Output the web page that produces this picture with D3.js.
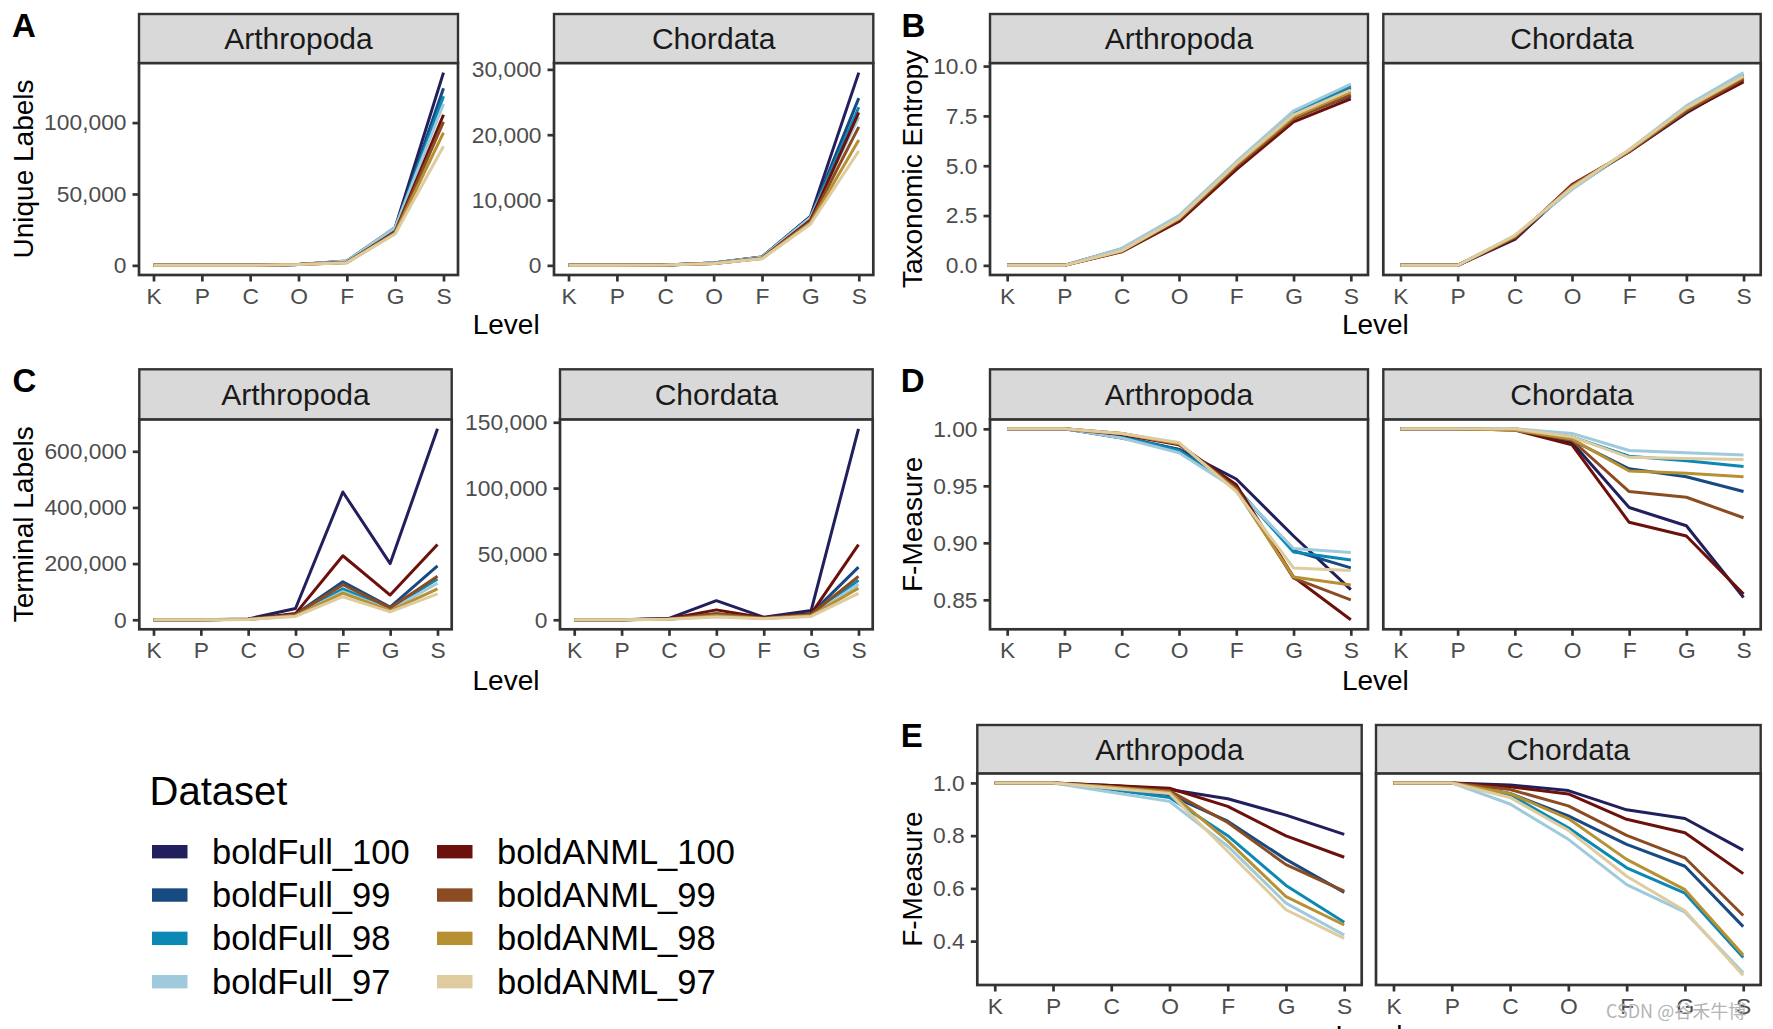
<!DOCTYPE html>
<html>
<head>
<meta charset="utf-8">
<script src="https://cdn.jsdelivr.net/npm/d3@7"></script>
<style>
  body { margin: 0; background: #fff; }
  svg { display: block; }
  text { font-family: "Liberation Sans", Arial, Helvetica, sans-serif; }
</style>
</head>
<body>
<svg id="chart" width="1773" height="1029"></svg>
<script>
// ---------------- DATA ----------------
const levels = ["K", "P", "C", "O", "F", "G", "S"];
const datasets = ["boldFull_100", "boldFull_99", "boldFull_98", "boldFull_97",
                  "boldANML_100", "boldANML_99", "boldANML_98", "boldANML_97"];
const colors = ["#211F5C", "#184A82", "#0B88B4", "#9FCADB",
                "#6B100B", "#8C4C22", "#B89034", "#DECCA0"];

// A: Unique Labels
const uniqueArth = [
  [1, 30, 100, 600, 3000, 26500, 135000],
  [1, 30, 100, 600, 2900, 26000, 124000],
  [1, 30, 100, 600, 2900, 25800, 118500],
  [1, 30, 100, 600, 3000, 26500, 113000],
  [1, 28, 95, 550, 2100, 23500, 105500],
  [1, 28, 95, 550, 2000, 23000, 100500],
  [1, 28, 95, 550, 1900, 22500, 93000],
  [1, 28, 95, 550, 1800, 22000, 83500]
];
const uniqueChord = [
  [1, 3, 60, 350, 1300, 7500, 29500],
  [1, 3, 60, 350, 1300, 7400, 25600],
  [1, 3, 60, 350, 1250, 7300, 24200],
  [1, 3, 60, 350, 1250, 7300, 22700],
  [1, 3, 55, 300, 1100, 6900, 23400],
  [1, 3, 55, 300, 1100, 6700, 21200],
  [1, 3, 55, 300, 1050, 6500, 19200],
  [1, 3, 55, 300, 1000, 6300, 17500]
];
// B: Taxonomic Entropy
const entropyArth = [
  [0, 0, 0.80, 2.40, 5.00, 7.40, 8.50],
  [0, 0, 0.82, 2.45, 5.10, 7.60, 8.90],
  [0, 0, 0.82, 2.45, 5.15, 7.65, 9.00],
  [0, 0, 0.85, 2.50, 5.20, 7.75, 9.10],
  [0, 0, 0.68, 2.20, 4.80, 7.20, 8.35],
  [0, 0, 0.70, 2.30, 4.95, 7.35, 8.55],
  [0, 0, 0.72, 2.35, 5.05, 7.45, 8.70],
  [0, 0, 0.74, 2.38, 5.10, 7.55, 8.80]
];
const entropyChord = [
  [0, 0, 1.30, 3.95, 5.70, 7.65, 9.30],
  [0, 0, 1.40, 3.90, 5.75, 7.80, 9.45],
  [0, 0, 1.45, 3.85, 5.75, 7.85, 9.55],
  [0, 0, 1.50, 3.80, 5.80, 8.00, 9.67],
  [0, 0, 1.35, 4.05, 5.70, 7.70, 9.20],
  [0, 0, 1.40, 4.00, 5.72, 7.75, 9.35],
  [0, 0, 1.45, 3.95, 5.75, 7.85, 9.45],
  [0, 0, 1.50, 3.90, 5.80, 7.90, 9.50]
];
// C: Terminal Labels
const terminalArth = [
  [0, 200, 3000, 40000, 455000, 200000, 680000],
  [0, 100, 1500, 20000, 135000, 45000, 192000],
  [0, 100, 1500, 18000, 110000, 40000, 145000],
  [0, 100, 1500, 15000, 100000, 35000, 130000],
  [0, 100, 2000, 22000, 228000, 88000, 268000],
  [0, 100, 1500, 18000, 125000, 42000, 155000],
  [0, 100, 1000, 14000, 95000, 32000, 110000],
  [0, 100, 1000, 12000, 82000, 28000, 92000]
];
const terminalChord = [
  [0, 50, 1000, 14500, 2000, 7000, 145000],
  [0, 30, 500, 4500, 1500, 4500, 40000],
  [0, 30, 500, 3500, 1200, 4000, 30000],
  [0, 30, 500, 3000, 1000, 3500, 27000],
  [0, 30, 700, 7500, 1500, 4500, 57000],
  [0, 30, 500, 4500, 1200, 4000, 33000],
  [0, 30, 400, 3000, 1000, 3000, 24000],
  [0, 30, 400, 2000, 800, 2500, 20000]
];
// D: F-Measure
const fmeasureDArth = [
  [1, 1, 0.992, 0.982, 0.956, 0.906, 0.859],
  [1, 1, 0.993, 0.982, 0.948, 0.893, 0.878],
  [1, 1, 0.993, 0.981, 0.948, 0.892, 0.885],
  [1, 1, 0.992, 0.979, 0.947, 0.895, 0.8915],
  [1, 1, 0.995, 0.986, 0.951, 0.870, 0.8325],
  [1, 1, 0.996, 0.987, 0.948, 0.869, 0.850],
  [1, 1, 0.996, 0.987, 0.946, 0.870, 0.863],
  [1, 1, 0.996, 0.988, 0.945, 0.878, 0.8757]
];
const fmeasureDChord = [
  [1, 1, 1.000, 0.988, 0.931, 0.915, 0.852],
  [1, 1, 1.000, 0.990, 0.965, 0.958, 0.945],
  [1, 1, 1.000, 0.993, 0.976, 0.972, 0.967],
  [1, 1, 1.000, 0.996, 0.981, 0.979, 0.977],
  [1, 1, 0.999, 0.986, 0.918, 0.906, 0.855],
  [1, 1, 0.999, 0.990, 0.945, 0.940, 0.922],
  [1, 1, 0.999, 0.991, 0.963, 0.961, 0.958],
  [1, 1, 1.000, 0.993, 0.975, 0.974, 0.973]
];
// E: F-Measure
const fmeasureEArth = [
  [1, 1, 0.990, 0.975, 0.940, 0.878, 0.805],
  [1, 1, 0.980, 0.955, 0.855, 0.710, 0.585],
  [1, 1, 0.975, 0.945, 0.800, 0.611, 0.4715],
  [1, 1, 0.965, 0.930, 0.760, 0.544, 0.423],
  [1, 1, 0.990, 0.980, 0.911, 0.799, 0.718],
  [1, 1, 0.985, 0.970, 0.850, 0.690, 0.590],
  [1, 1, 0.985, 0.965, 0.780, 0.569, 0.461],
  [1, 1, 0.980, 0.960, 0.740, 0.519, 0.410]
];
const fmeasureEChord = [
  [1, 1, 0.992, 0.971, 0.898, 0.865, 0.745],
  [1, 1, 0.960, 0.875, 0.767, 0.684, 0.455],
  [1, 1, 0.955, 0.830, 0.678, 0.582, 0.338],
  [1, 1, 0.920, 0.786, 0.614, 0.510, 0.280],
  [1, 1, 0.985, 0.958, 0.862, 0.811, 0.656],
  [1, 1, 0.975, 0.913, 0.801, 0.716, 0.497],
  [1, 1, 0.960, 0.865, 0.710, 0.595, 0.347],
  [1, 1, 0.945, 0.820, 0.646, 0.515, 0.270]
];

// tick labels
const ticksUniqueArth = [0, 50000, 100000];
const ticksUniqueChord = [0, 10000, 20000, 30000];
const ticksEntropy = [0, 2.5, 5, 7.5, 10];
const ticksTerminalArth = [0, 200000, 400000, 600000];
const ticksTerminalChord = [0, 50000, 100000, 150000];
const ticksFD = [0.85, 0.90, 0.95, 1.00];
const ticksFE = [0.4, 0.6, 0.8, 1.0];
const facetNames = ["Arthropoda", "Chordata"];

// ---------------- DRAW ----------------
const svg = d3.select("#chart");
const INK = "#333333";
const TICKTXT = "#4D4D4D";
const TICK_FS = 22.8, STRIP_FS = 30, TITLE_FS = 28;

function paddedDomain(arrays) {
  const all = arrays.flat(2);
  const [mn, mx] = d3.extent(all);
  const pad = (mx - mn) * 0.05;
  return [mn - pad, mx + pad];
}

function drawGroup(opt) {
  const g = svg.append("g");
  const shared = opt.shared ? paddedDomain(opt.facets.map(f => f.data)) : null;
  opt.facets.forEach(f => {
    const x = d3.scalePoint().domain(levels).range([f.x0, f.x1]).padding(0.3);
    const dom = shared || paddedDomain([f.data]);
    const y = d3.scaleLinear().domain(dom).range([opt.plotBottom, opt.plotTop]);
    const fg = g.append("g");

    // lines
    const line = d3.line().x((d, i) => x(levels[i])).y(d => y(d));
    fg.append("g").selectAll("path").data(f.data).join("path")
      .attr("d", line)
      .attr("fill", "none")
      .attr("stroke", (d, i) => colors[i])
      .attr("stroke-width", 3)
      .attr("stroke-linejoin", "round")
      .attr("stroke-linecap", "butt");

    // panel border
    fg.append("rect")
      .attr("x", f.x0).attr("y", opt.plotTop)
      .attr("width", f.x1 - f.x0).attr("height", opt.plotBottom - opt.plotTop)
      .attr("fill", "none").attr("stroke", INK).attr("stroke-width", 2.7);

    // strip
    fg.append("rect")
      .attr("x", f.x0).attr("y", opt.stripTop)
      .attr("width", f.x1 - f.x0).attr("height", opt.plotTop - opt.stripTop)
      .attr("fill", "#D9D9D9").attr("stroke", INK).attr("stroke-width", 2.4);
    fg.append("text")
      .attr("x", (f.x0 + f.x1) / 2)
      .attr("y", (opt.stripTop + opt.plotTop) / 2 + 0.358 * STRIP_FS)
      .attr("text-anchor", "middle")
      .attr("font-size", STRIP_FS).attr("fill", "#1A1A1A")
      .text(f.title);

    // x axis
    const xa = fg.append("g")
      .attr("transform", `translate(0,${opt.plotBottom})`)
      .call(d3.axisBottom(x).tickSize(6.5).tickPadding(6));
    xa.select(".domain").remove();
    xa.selectAll(".tick line").attr("stroke", INK).attr("stroke-width", 2.7);
    xa.selectAll(".tick text").attr("fill", TICKTXT).attr("font-size", TICK_FS)
      .style("font-family", "'Liberation Sans', Arial, sans-serif");

    // y axis
    if (f.showY) {
      const ya = fg.append("g")
        .attr("transform", `translate(${f.x0},0)`)
        .call(d3.axisLeft(y).tickValues(f.ticks).tickSize(6.5).tickPadding(6)
          .tickFormat(opt.fmt));
      ya.select(".domain").remove();
      ya.selectAll(".tick line").attr("stroke", INK).attr("stroke-width", 2.7);
      ya.selectAll(".tick text").attr("fill", TICKTXT).attr("font-size", TICK_FS)
        .style("font-family", "'Liberation Sans', Arial, sans-serif");
    }
  });

  // panel letter
  g.append("text")
    .attr("x", opt.letterX).attr("y", opt.letterY)
    .attr("font-size", 33).attr("font-weight", "bold").attr("fill", "#000")
    .text(opt.letter);

  // y title
  g.append("text")
    .attr("transform", `translate(${opt.yTitleX},${(opt.plotTop + opt.plotBottom) / 2}) rotate(-90)`)
    .attr("text-anchor", "middle")
    .attr("font-size", TITLE_FS).attr("fill", "#000")
    .text(opt.yTitle);

  // x title
  const fx0 = opt.facets[0].x0, fx1 = opt.facets[opt.facets.length - 1].x1;
  g.append("text")
    .attr("x", (fx0 + fx1) / 2).attr("y", opt.levelY)
    .attr("text-anchor", "middle")
    .attr("font-size", TITLE_FS).attr("fill", "#000")
    .text("Level");
}

const fmtComma = d3.format(",");
// A
drawGroup({
  letter: "A", letterX: 12, letterY: 37.3,
  yTitle: "Unique Labels", yTitleX: 33,
  stripTop: 14, plotTop: 63, plotBottom: 275, levelY: 333.5,
  shared: false, fmt: fmtComma,
  facets: [
    { title: facetNames[0], data: uniqueArth, x0: 139, x1: 458, ticks: ticksUniqueArth, showY: true },
    { title: facetNames[1], data: uniqueChord, x0: 554, x1: 873.3, ticks: ticksUniqueChord, showY: true }
  ]
});
// B
drawGroup({
  letter: "B", letterX: 901.5, letterY: 37.3,
  yTitle: "Taxonomic Entropy", yTitleX: 921.7,
  stripTop: 14, plotTop: 63, plotBottom: 275, levelY: 333.5,
  shared: true, fmt: d3.format(".1f"),
  facets: [
    { title: facetNames[0], data: entropyArth, x0: 990, x1: 1368, ticks: ticksEntropy, showY: true },
    { title: facetNames[1], data: entropyChord, x0: 1383.3, x1: 1760.7, ticks: ticksEntropy, showY: false }
  ]
});
// C
drawGroup({
  letter: "C", letterX: 12.5, letterY: 392.3,
  yTitle: "Terminal Labels", yTitleX: 33,
  stripTop: 369.3, plotTop: 419.3, plotBottom: 629.3, levelY: 690,
  shared: false, fmt: fmtComma,
  facets: [
    { title: facetNames[0], data: terminalArth, x0: 139.3, x1: 451.7, ticks: ticksTerminalArth, showY: true },
    { title: facetNames[1], data: terminalChord, x0: 560, x1: 872.7, ticks: ticksTerminalChord, showY: true }
  ]
});
// D
drawGroup({
  letter: "D", letterX: 900.7, letterY: 392.3,
  yTitle: "F-Measure", yTitleX: 921.7,
  stripTop: 369.3, plotTop: 419.3, plotBottom: 629.3, levelY: 690,
  shared: true, fmt: d3.format(".2f"),
  facets: [
    { title: facetNames[0], data: fmeasureDArth, x0: 990, x1: 1368, ticks: ticksFD, showY: true },
    { title: facetNames[1], data: fmeasureDChord, x0: 1383.3, x1: 1760.7, ticks: ticksFD, showY: false }
  ]
});
// E
drawGroup({
  letter: "E", letterX: 900.7, letterY: 747.3,
  yTitle: "F-Measure", yTitleX: 921.7,
  stripTop: 725, plotTop: 773.3, plotBottom: 985, levelY: 1045,
  shared: true, fmt: d3.format(".1f"),
  facets: [
    { title: facetNames[0], data: fmeasureEArth, x0: 977.3, x1: 1361.7, ticks: ticksFE, showY: true },
    { title: facetNames[1], data: fmeasureEChord, x0: 1376, x1: 1760.7, ticks: ticksFE, showY: false }
  ]
});

// Legend
const lg = svg.append("g");
lg.append("text").attr("x", 149.5).attr("y", 805)
  .attr("font-size", 40).attr("fill", "#000").text("Dataset");
const rowY = d3.scalePoint().domain(d3.range(4)).range([851.7, 981.7]);
const colX = [{ key: 152, label: 212 }, { key: 437, label: 497 }];
datasets.forEach((name, i) => {
  const c = colX[Math.floor(i / 4)], r = rowY(i % 4);
  lg.append("rect").attr("x", c.key).attr("y", r - 6.7)
    .attr("width", 35.5).attr("height", 13.4).attr("fill", colors[i]);
  lg.append("text").attr("x", c.label).attr("y", r + 12)
    .attr("font-size", 34.5).attr("fill", "#000").text(name);
});

// watermark
svg.append("text").attr("x", 1606).attr("y", 1018)
  .attr("font-size", 18).attr("fill", "#B4B4B4")
  .style("font-family", "'Noto Sans CJK SC', 'Liberation Sans', sans-serif")
  .text("CSDN @谷禾牛博");
</script>
</body>
</html>
